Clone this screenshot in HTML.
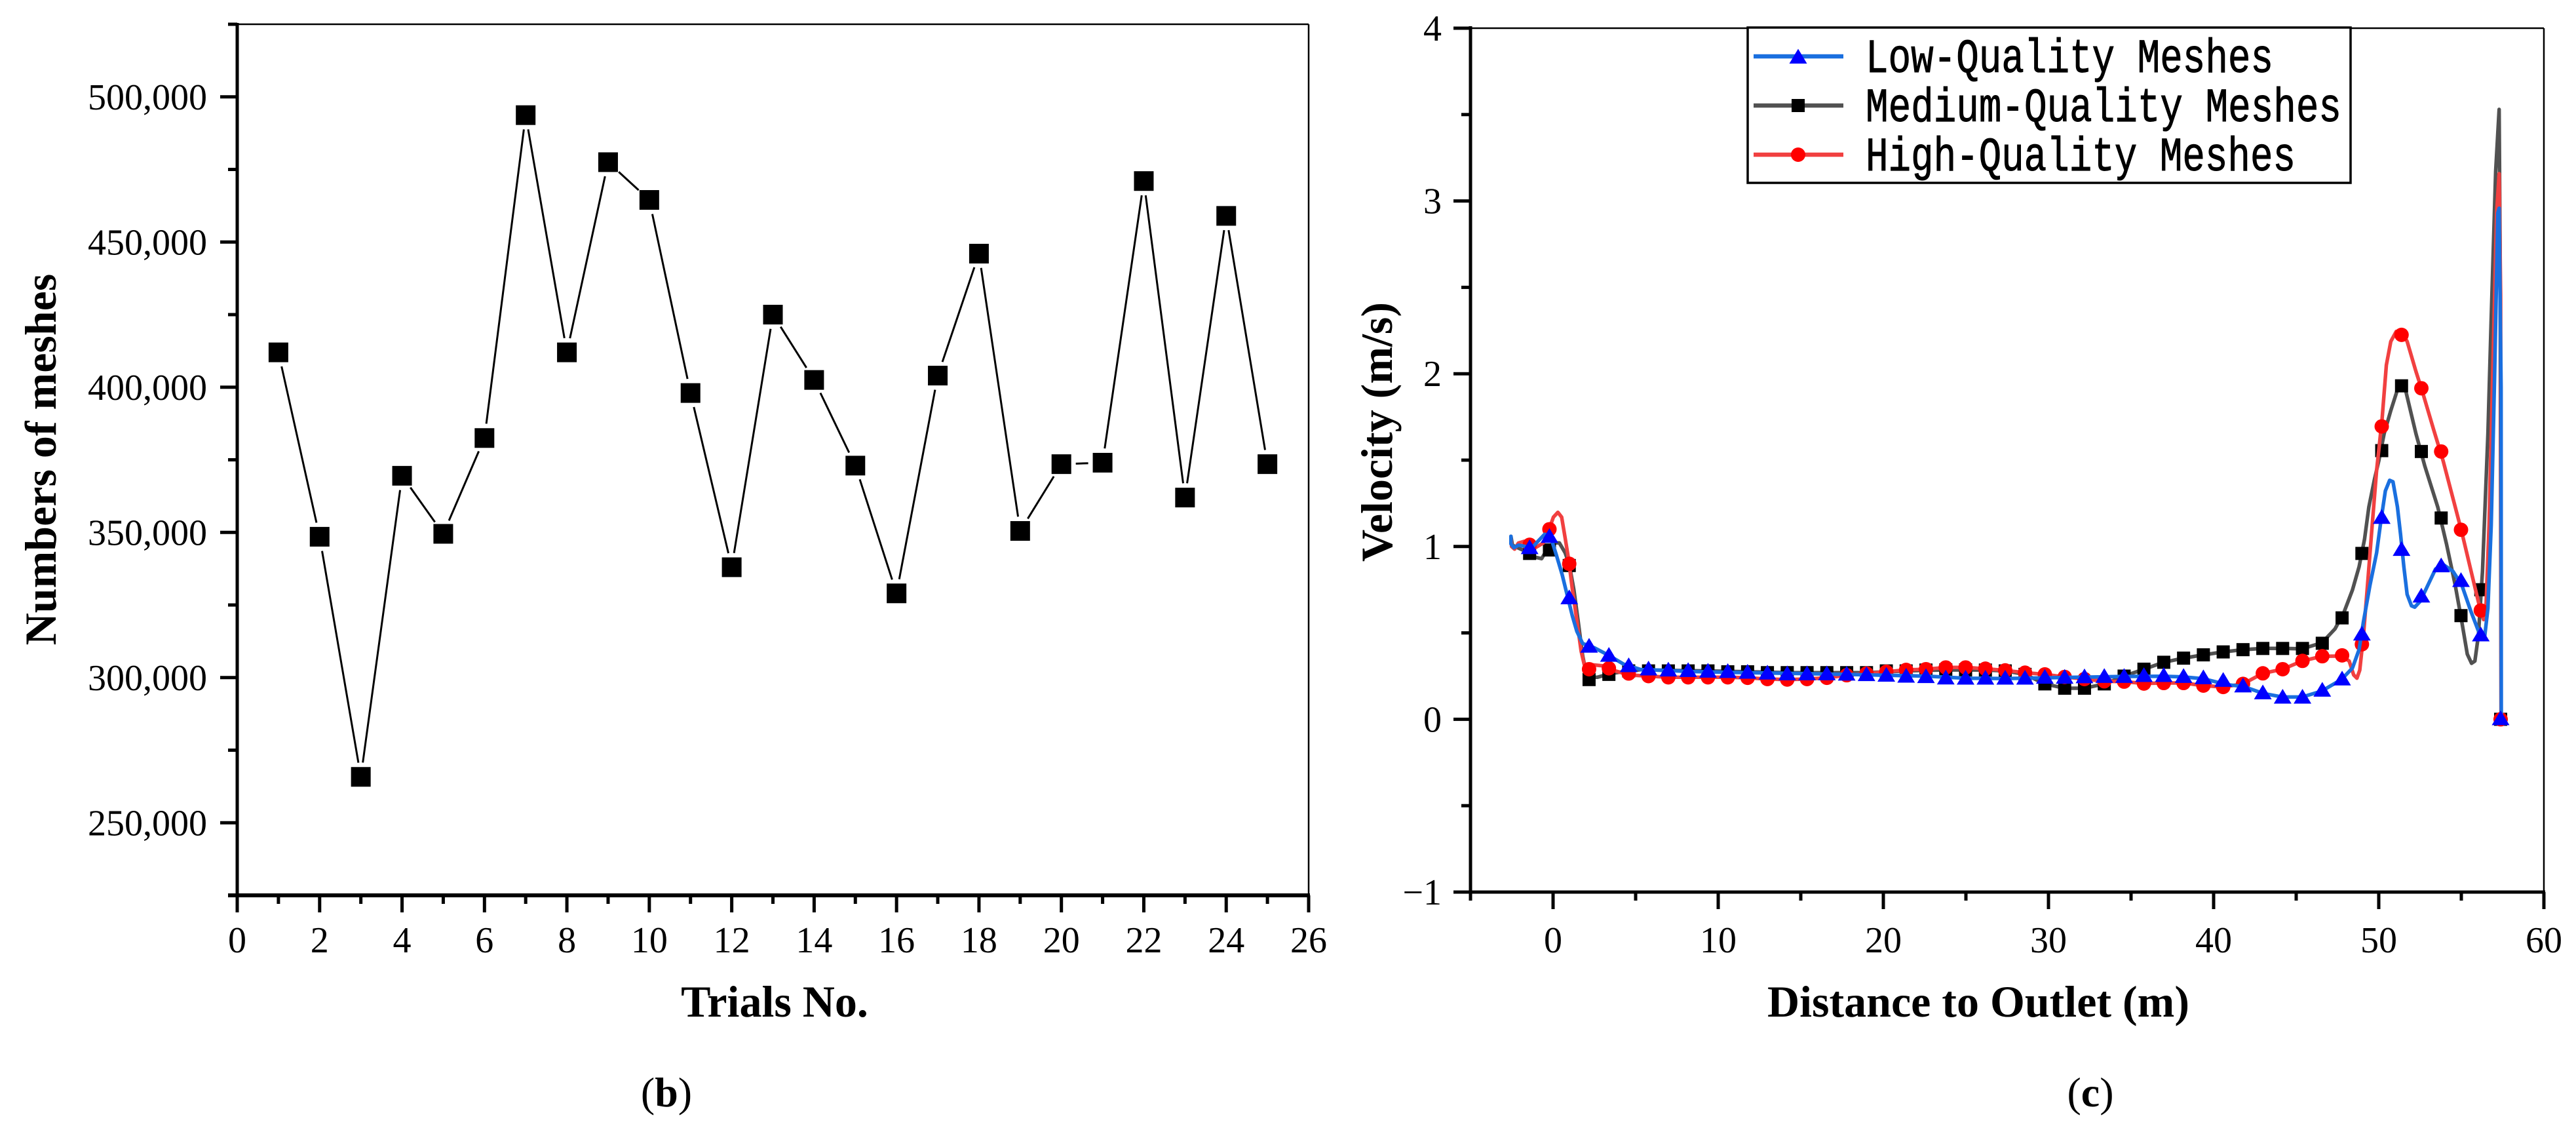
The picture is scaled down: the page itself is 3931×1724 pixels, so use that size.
<!DOCTYPE html>
<html>
<head>
<meta charset="utf-8">
<style>
html,body{margin:0;padding:0;background:#fff;}
svg{display:block;font-family:"Liberation Serif",serif;}
</style>
</head>
<body>
<svg id="fig" xmlns="http://www.w3.org/2000/svg" width="3931" height="1724" viewBox="0 0 3931 1724">
  <rect x="0" y="0" width="3931" height="1724" fill="#fff"/>
  <g id="left">
    <text x="85" y="701" transform="rotate(-90 85 701)" text-anchor="middle" font-size="68" font-weight="bold">Numbers of meshes</text>
    <text x="1182" y="1551" text-anchor="middle" font-size="68" font-weight="bold">Trials No.</text>
    <text x="1017" y="1688" text-anchor="middle" font-size="64">(<tspan font-weight="bold">b</tspan>)</text>
  </g>
  <g id="right">
    <text x="2124" y="659" transform="rotate(-90 2124 659)" text-anchor="middle" font-size="68" font-weight="bold">Velocity (m/s)</text>
    <text x="3019" y="1551" text-anchor="middle" font-size="68" font-weight="bold">Distance to Outlet (m)</text>
    <text x="3190" y="1688" text-anchor="middle" font-size="64">(<tspan font-weight="bold">c</tspan>)</text>
  </g>
  <g id="legend">
    <rect x="2667" y="42" width="920" height="237" fill="#fff" stroke="#000" stroke-width="3.5"/>
    <text x="2847" y="110" font-family="'Liberation Mono',monospace" font-size="73" stroke="#000" stroke-width="1" textLength="622" lengthAdjust="spacingAndGlyphs">Low-Quality Meshes</text>
    <text x="2847" y="185" font-family="'Liberation Mono',monospace" font-size="73" stroke="#000" stroke-width="1" textLength="726" lengthAdjust="spacingAndGlyphs">Medium-Quality Meshes</text>
    <text x="2847" y="260" font-family="'Liberation Mono',monospace" font-size="73" stroke="#000" stroke-width="1" textLength="656" lengthAdjust="spacingAndGlyphs">High-Quality Meshes</text>
  </g>
</svg>
<script>
// ---- Left chart data ----
const trialNumbers = [1,2,3,4,5,6,7,8,9,10,11,12,13,14,15,16,17,18,19,20,21,22,23,24,25];
const meshCounts = [412000,348500,265800,369500,349500,382500,493700,412000,477500,464500,398000,338000,425000,402500,373000,329000,404000,446000,350500,373500,374000,471000,362000,459000,373500];
const trialTicks = [0,2,4,6,8,10,12,14,16,18,20,22,24,26];
const trialMinorTicks = [1,3,5,7,9,11,13,15,17,19,21,23,25];
const meshTicks = [250000,300000,350000,400000,450000,500000];
const meshTickLabels = ['250,000','300,000','350,000','400,000','450,000','500,000'];
const meshMinorTicks = [225000,275000,325000,375000,425000,475000,525000];

// ---- Right chart data ----
const distanceTicks = [0,10,20,30,40,50,60];
const distanceMinorTicks = [-5,5,15,25,35,45,55];
const velocityTicks = [-1,0,1,2,3,4];
const velocityTickLabels = ['\u22121','0','1','2','3','4'];
const velocityMinorTicks = [-0.5,0.5,1.5,2.5,3.5];

const markerDistance = [-1.42,-0.22,0.98,2.18,3.38,4.58,5.78,6.98,8.18,9.38,10.58,11.78,12.98,14.18,15.38,16.58,17.78,18.98,20.18,21.38,22.58,23.78,24.98,26.18,27.38,28.58,29.78,30.98,32.18,33.38,34.58,35.78,36.98,38.18,39.38,40.58,41.78,42.98,44.18,45.38,46.58,47.78,48.98,50.18,51.38,52.58,53.78,54.98,56.18,57.38];
const lowMarkers = [0.99,1.055,0.70,0.42,0.367,0.307,0.288,0.282,0.279,0.275,0.273,0.269,0.264,0.26,0.26,0.26,0.258,0.255,0.252,0.246,0.244,0.236,0.235,0.235,0.235,0.235,0.24,0.24,0.243,0.245,0.245,0.25,0.25,0.245,0.237,0.222,0.19,0.15,0.125,0.125,0.165,0.23,0.49,1.165,0.98,0.71,0.885,0.80,0.485,0];
const mediumMarkers = [0.96,0.98,0.89,0.23,0.26,0.28,0.28,0.28,0.28,0.28,0.275,0.275,0.27,0.27,0.27,0.27,0.27,0.27,0.28,0.28,0.285,0.286,0.286,0.285,0.28,0.26,0.205,0.18,0.18,0.205,0.25,0.29,0.33,0.354,0.373,0.39,0.403,0.41,0.41,0.41,0.44,0.587,0.96,1.555,1.93,1.55,1.165,0.60,0.75,0];
const highMarkers = [1.01,1.10,0.90,0.29,0.295,0.265,0.25,0.243,0.243,0.243,0.243,0.24,0.233,0.23,0.233,0.24,0.255,0.265,0.275,0.286,0.29,0.30,0.30,0.293,0.283,0.27,0.26,0.245,0.233,0.22,0.218,0.207,0.21,0.21,0.195,0.187,0.205,0.266,0.29,0.338,0.365,0.37,0.434,1.695,2.225,1.916,1.55,1.097,0.63,0];

const lowLineDistance = [-2.55,-2.55,-2.37,-2.1,-1.75,-1.31,-0.95,-0.51,-0.16,0.2,0.55,0.91,1.17,1.44,1.79,2.5,3.39,4.27,5.34,5.78,8.18,10.58,12.98,15.38,17.78,20.18,22.58,24.98,27.38,29.78,32.18,34.58,36.98,38.18,39.38,40.2,40.87,41.8,43,44.18,45.37,46.56,47.75,48.41,48.81,49.07,49.47,49.87,50.13,50.4,50.66,50.86,51.13,51.32,51.52,51.72,51.98,52.18,52.51,52.91,53.44,53.9,54.5,55.03,55.56,56.09,56.42,56.61,56.81,57.01,57.21,57.29,57.41,57.42];
const lowLineVelocity = [1.059,1.015,0.993,1.008,1.002,0.989,1.027,1.071,1.059,0.951,0.837,0.698,0.597,0.509,0.439,0.414,0.369,0.319,0.287,0.287,0.277,0.272,0.268,0.264,0.26,0.255,0.25,0.238,0.236,0.24,0.244,0.248,0.249,0.245,0.235,0.215,0.2,0.19,0.15,0.129,0.129,0.164,0.231,0.297,0.404,0.564,0.776,0.963,1.149,1.322,1.383,1.375,1.229,1.069,0.883,0.723,0.657,0.649,0.683,0.763,0.87,0.896,0.856,0.776,0.63,0.497,0.484,0.643,1.122,1.974,2.93,2.958,1.92,0];

const mediumLineDistance = [-2.55,-2.46,-2.19,-1.75,-1.4,-0.69,-0.33,0.02,0.38,0.73,1,1.26,1.53,1.79,2.06,2.68,3.39,4.1,5.34,6.98,9.38,11.78,14.18,16.58,18.98,21.38,23.78,26.18,27.38,28.58,29.78,30.98,32.18,33.38,34.58,35.78,36.98,38.18,39.38,40.58,41.78,42.98,44.18,45.37,46.56,47.35,47.88,48.41,48.81,49.14,49.4,49.74,50,50.33,50.73,51.13,51.39,51.65,52.25,52.78,53.57,54.1,54.63,55.03,55.36,55.62,55.82,56.03,56.28,56.61,56.81,57.08,57.29,57.35,57.41];
const mediumLineVelocity = [1.059,1.008,0.995,0.976,0.945,0.93,0.989,1.021,1.021,0.964,0.888,0.749,0.559,0.369,0.243,0.243,0.262,0.274,0.287,0.283,0.28,0.275,0.27,0.27,0.27,0.28,0.286,0.285,0.28,0.26,0.205,0.18,0.18,0.205,0.25,0.29,0.33,0.354,0.373,0.39,0.403,0.41,0.41,0.408,0.443,0.523,0.616,0.749,0.883,1.042,1.229,1.388,1.495,1.654,1.787,1.907,1.942,1.894,1.654,1.468,1.229,1.016,0.776,0.563,0.377,0.324,0.337,0.484,0.856,1.654,2.319,3.171,3.53,2.72,0];

const highLineDistance = [-2.55,-2.51,-2.33,-2.1,-1.75,-1.4,-1.04,-0.6,-0.24,0.02,0.29,0.52,0.73,0.94,1.17,1.44,1.7,1.88,2.32,3.03,3.74,4.63,5.78,6.98,8.18,9.38,10.58,11.78,12.98,14.18,15.38,16.58,17.78,18.98,20.18,21.38,22.58,23.78,24.98,26.18,27.38,28.58,29.78,30.98,32.18,33.38,34.58,35.78,36.98,38.18,39.38,40.58,41.78,42.98,44.18,45.38,46.58,47.75,48.21,48.48,48.68,48.85,49.07,49.34,49.6,49.87,50.2,50.46,50.73,51.06,51.39,51.72,52.25,52.65,53.31,53.9,54.56,55.03,55.56,56.09,56.35,56.48,56.68,56.95,57.14,57.29,57.38,57.41];
const highLineVelocity = [1.05,1.0,0.985,1.02,1.03,1.02,0.995,1.02,1.10,1.17,1.198,1.17,1.05,0.926,0.75,0.572,0.395,0.319,0.316,0.309,0.281,0.256,0.25,0.243,0.243,0.243,0.243,0.24,0.233,0.23,0.233,0.24,0.255,0.265,0.275,0.286,0.29,0.30,0.30,0.293,0.283,0.27,0.26,0.245,0.233,0.22,0.218,0.207,0.21,0.21,0.195,0.187,0.205,0.266,0.29,0.338,0.365,0.366,0.337,0.257,0.238,0.284,0.483,0.803,1.12,1.44,1.734,2.05,2.187,2.245,2.245,2.187,2.014,1.894,1.681,1.495,1.255,1.082,0.87,0.657,0.577,0.617,1.122,2.187,2.93,3.158,2.453,0];

// ---- Axis functions ----
const L = {x0:362, x1:1997, y0:1366, y1:37};
const R = {x0:2244, x1:3882, y0:1361, y1:43};
function xLeft(v){return L.x0 + (v-0)/(26-0)*(L.x1-L.x0);}
function yLeft(v){return L.y0 - (v-225000)/(525000-225000)*(L.y0-L.y1);}
function xRight(v){return R.x0 + (v+5)/(60+5)*(R.x1-R.x0);}
function yRight(v){return R.y0 - (v+1)/(4+1)*(R.y0-R.y1);}

const NS = 'http://www.w3.org/2000/svg';
const leftG = document.getElementById('left');
const rightG = document.getElementById('right');
const legendG = document.getElementById('legend');

function node(parent, tag, attrs){
  const el = document.createElementNS(NS, tag);
  for (const k in attrs) el.setAttribute(k, attrs[k]);
  parent.appendChild(el);
  return el;
}
function seg(parent, x1, y1, x2, y2, w, color){
  const el = node(parent, 'line', {x1:x1, y1:y1, x2:x2, y2:y2, stroke:color || '#000', 'stroke-width':w});
  
  return el;
}
function label(parent, x, y, str, anchor){
  const el = node(parent, 'text', {x:x, y:y, 'text-anchor':anchor, 'font-size':56});
  el.textContent = str;
  
  return el;
}
function square(parent, x, y, s, color){
  const el = node(parent, 'rect', {x:x-s/2, y:y-s/2, width:s, height:s, fill:color});
  
  return el;
}
function circle(parent, x, y, r, color){
  const el = node(parent, 'circle', {cx:x, cy:y, r:r, fill:color});
  
  return el;
}
function triangle(parent, x, y, color){
  const pts = (x-13.5)+','+(y+9)+' '+(x+13.5)+','+(y+9)+' '+x+','+(y-13.5);
  const el = node(parent, 'polygon', {points:pts, fill:color});
  
  return el;
}
function polyline(parent, xs, ys, fx, fy, color){
  let pts = '';
  for (let i=0;i<xs.length;i++) pts += fx(xs[i]).toFixed(1)+','+fy(ys[i]).toFixed(1)+' ';
  const el = node(parent, 'polyline', {points:pts, fill:'none', stroke:color, 'stroke-width':5.5, 'stroke-linejoin':'round', 'stroke-linecap':'round'});
  
  return el;
}

// ---- Left chart frame & axes ----
{
  let f;
  f = seg(leftG, L.x0, L.y1, L.x1, L.y1, 2.5);
  
  f = seg(leftG, L.x1, L.y1, L.x1, L.y0, 2.5);
  
  f = seg(leftG, L.x0, L.y1-2, L.x0, L.y0+3, 5);
  
  f = seg(leftG, L.x0-14, L.y0, L.x1+2, L.y0, 6);
  
}
trialTicks.forEach(function(v){
  const t = seg(leftG, xLeft(v), L.y0, xLeft(v), L.y0+26, 5);
  
  const l = label(leftG, xLeft(v), 1453, String(v), 'middle');
  
});
trialMinorTicks.forEach(function(v){
  const t = seg(leftG, xLeft(v), L.y0, xLeft(v), L.y0+13, 5);
  
});
meshTicks.forEach(function(v,i){
  const t = seg(leftG, L.x0-26, yLeft(v), L.x0, yLeft(v), 5);
  
  const l = label(leftG, 316, yLeft(v)+19, meshTickLabels[i], 'end');
  
});
meshMinorTicks.forEach(function(v){
  const t = seg(leftG, L.x0-14, yLeft(v), L.x0, yLeft(v), 5);
  
});
// Connector segments stop short of each marker
const markerGap = 22;
for (let i=0;i<trialNumbers.length-1;i++){
  const ax = xLeft(trialNumbers[i]), ay = yLeft(meshCounts[i]);
  const bx = xLeft(trialNumbers[i+1]), by = yLeft(meshCounts[i+1]);
  const d = Math.hypot(bx-ax, by-ay);
  const ux = (bx-ax)/d, uy = (by-ay)/d;
  const c = seg(leftG, ax+ux*markerGap, ay+uy*markerGap, bx-ux*markerGap, by-uy*markerGap, 3);
  
}
trialNumbers.forEach(function(t,i){
  const m = square(leftG, xLeft(t), yLeft(meshCounts[i]), 30, '#000');
  
});

// ---- Right chart frame & axes ----
{
  let f;
  f = seg(rightG, R.x0, R.y1, R.x1, R.y1, 2.5);
  
  f = seg(rightG, R.x1, R.y1, R.x1, R.y0, 2.5);
  
  f = seg(rightG, R.x0, R.y1-3, R.x0, R.y0+3, 5);
  
  f = seg(rightG, R.x0-3, R.y0, R.x1+2, R.y0, 5);
  
}
distanceTicks.forEach(function(v){
  const t = seg(rightG, xRight(v), R.y0, xRight(v), R.y0+26, 5);
  
  const l = label(rightG, xRight(v), 1453, String(v), 'middle');
  
});
distanceMinorTicks.forEach(function(v){
  const t = seg(rightG, xRight(v), R.y0, xRight(v), R.y0+13, 5);
  
});
velocityTicks.forEach(function(v,i){
  const t = seg(rightG, R.x0-26, yRight(v), R.x0, yRight(v), 5);
  
  const l = label(rightG, 2200, yRight(v)+19, velocityTickLabels[i], 'end');
  
});
velocityMinorTicks.forEach(function(v){
  const t = seg(rightG, R.x0-14, yRight(v), R.x0, yRight(v), 5);
  
});

// ---- Right chart series (medium, then high, then low on top) ----
const mediumLine = polyline(rightG, mediumLineDistance, mediumLineVelocity, xRight, yRight, '#515151');

markerDistance.forEach(function(d,i){
  const m = square(rightG, xRight(d), yRight(mediumMarkers[i]), 20, '#000');
  
});
const highLine = polyline(rightG, highLineDistance, highLineVelocity, xRight, yRight, '#f14040');

markerDistance.forEach(function(d,i){
  const m = circle(rightG, xRight(d), yRight(highMarkers[i]), 11, '#ff0000');
  
});
const lowLine = polyline(rightG, lowLineDistance, lowLineVelocity, xRight, yRight, '#1a6fdf');

markerDistance.forEach(function(d,i){
  const m = triangle(rightG, xRight(d), yRight(lowMarkers[i]), '#0000ff');
  
});

// ---- Legend keys ----
const keyLow = seg(legendG, 2676, 86, 2813, 86, 6.5, '#1a6fdf');

const keyLowM = triangle(legendG, 2744, 88, '#0000ff');

const keyMed = seg(legendG, 2676, 161, 2813, 161, 6.5, '#515151');

const keyMedM = square(legendG, 2744, 161, 20, '#000');

const keyHigh = seg(legendG, 2676, 236, 2813, 236, 6.5, '#f14040');

const keyHighM = circle(legendG, 2744, 236, 11, '#ff0000');

</script>
</body>
</html>
